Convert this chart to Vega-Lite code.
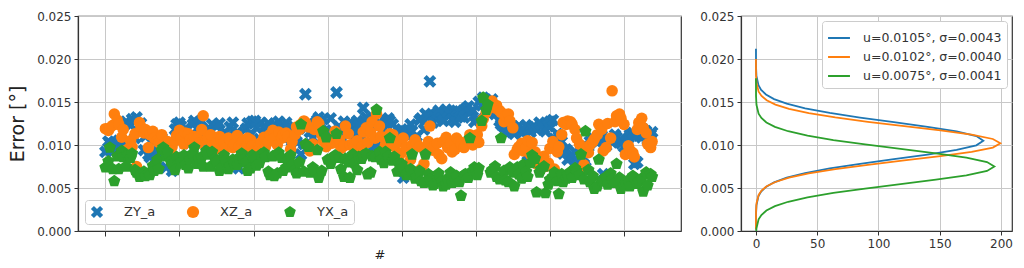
{
  "$schema": "https://vega.github.io/schema/vega-lite/v6.json",
  "padding": {"left": 8, "top": 9, "right": 5, "bottom": 2},
  "background": "white",
  "spacing": 17,
  "config": {
    "font": "DejaVu Sans",
    "view": {"stroke": "#333333", "strokeWidth": 1.2},
    "axis": {"grid": true, "gridColor": "#c8c8c8", "gridWidth": 1, "domainColor": "#333333", "domainWidth": 1.2, "tickColor": "#333333", "tickSize": 4, "labelFont": "DejaVu Sans", "labelFontSize": 12, "labelColor": "#333333", "titleFont": "DejaVu Sans", "titleFontWeight": "normal", "titleColor": "#222222", "labelPadding": 3},
    "legend": {"labelFont": "DejaVu Sans", "labelFontSize": 13, "labelColor": "#333333"}
  },
  "resolve": {"scale": {"color": "independent", "shape": "independent"}},
  "datasets": {
    "pts": [
      {"i":0,"ZY_a":0.0092,"XZ_a":0.0119,"YX_a":0.0074},
      {"i":2,"ZY_a":0.0104,"XZ_a":0.0117,"YX_a":0.0081},
      {"i":3,"ZY_a":0.0102,"XZ_a":0.0120,"YX_a":0.0097},
      {"i":5,"ZY_a":0.0093,"XZ_a":0.0123,"YX_a":0.0072},
      {"i":6,"ZY_a":0.0100,"XZ_a":0.0136,"YX_a":0.0058},
      {"i":8,"ZY_a":0.0099,"XZ_a":0.0129,"YX_a":0.0087},
      {"i":9,"ZY_a":0.0105,"XZ_a":0.0124,"YX_a":0.0072},
      {"i":11,"ZY_a":0.0101,"XZ_a":0.0109,"YX_a":0.0093},
      {"i":12,"ZY_a":0.0098,"XZ_a":0.0118,"YX_a":0.0086},
      {"i":14,"ZY_a":0.0127,"XZ_a":0.0092,"YX_a":0.0075},
      {"i":15,"ZY_a":0.0096,"XZ_a":0.0095,"YX_a":0.0088},
      {"i":17,"ZY_a":0.0123,"XZ_a":0.0105,"YX_a":0.0085},
      {"i":18,"ZY_a":0.0130,"XZ_a":0.0098,"YX_a":0.0090},
      {"i":20,"ZY_a":0.0108,"XZ_a":0.0113,"YX_a":0.0071},
      {"i":21,"ZY_a":0.0132,"XZ_a":0.0075,"YX_a":0.0068},
      {"i":23,"ZY_a":0.0117,"XZ_a":0.0126,"YX_a":0.0063},
      {"i":24,"ZY_a":0.0125,"XZ_a":0.0121,"YX_a":0.0066},
      {"i":26,"ZY_a":0.0094,"XZ_a":0.0114,"YX_a":0.0069},
      {"i":27,"ZY_a":0.0110,"XZ_a":0.0118,"YX_a":0.0064},
      {"i":29,"ZY_a":0.0089,"XZ_a":0.0097,"YX_a":0.0067},
      {"i":30,"ZY_a":0.0086,"XZ_a":0.0112,"YX_a":0.0065},
      {"i":32,"ZY_a":0.0104,"XZ_a":0.0116,"YX_a":0.0076},
      {"i":33,"ZY_a":0.0082,"XZ_a":0.0108,"YX_a":0.0070},
      {"i":35,"ZY_a":0.0091,"XZ_a":0.0105,"YX_a":0.0083},
      {"i":36,"ZY_a":0.0100,"XZ_a":0.0103,"YX_a":0.0072},
      {"i":38,"ZY_a":0.0108,"XZ_a":0.0112,"YX_a":0.0094},
      {"i":39,"ZY_a":0.0097,"XZ_a":0.0099,"YX_a":0.0097},
      {"i":41,"ZY_a":0.0074,"XZ_a":0.0101,"YX_a":0.0087},
      {"i":42,"ZY_a":0.0095,"XZ_a":0.0104,"YX_a":0.0092},
      {"i":44,"ZY_a":0.0099,"XZ_a":0.0093,"YX_a":0.0081},
      {"i":45,"ZY_a":0.0070,"XZ_a":0.0098,"YX_a":0.0078},
      {"i":47,"ZY_a":0.0118,"XZ_a":0.0105,"YX_a":0.0071},
      {"i":48,"ZY_a":0.0124,"XZ_a":0.0111,"YX_a":0.0086},
      {"i":50,"ZY_a":0.0126,"XZ_a":0.0117,"YX_a":0.0079},
      {"i":51,"ZY_a":0.0122,"XZ_a":0.0108,"YX_a":0.0080},
      {"i":53,"ZY_a":0.0111,"XZ_a":0.0101,"YX_a":0.0088},
      {"i":54,"ZY_a":0.0119,"XZ_a":0.0114,"YX_a":0.0077},
      {"i":56,"ZY_a":0.0105,"XZ_a":0.0113,"YX_a":0.0073},
      {"i":57,"ZY_a":0.0102,"XZ_a":0.0106,"YX_a":0.0083},
      {"i":59,"ZY_a":0.0124,"XZ_a":0.0104,"YX_a":0.0090},
      {"i":60,"ZY_a":0.0128,"XZ_a":0.0110,"YX_a":0.0097},
      {"i":62,"ZY_a":0.0119,"XZ_a":0.0108,"YX_a":0.0078},
      {"i":63,"ZY_a":0.0126,"XZ_a":0.0102,"YX_a":0.0084},
      {"i":65,"ZY_a":0.0128,"XZ_a":0.0118,"YX_a":0.0086},
      {"i":66,"ZY_a":0.0113,"XZ_a":0.0134,"YX_a":0.0075},
      {"i":68,"ZY_a":0.0101,"XZ_a":0.0106,"YX_a":0.0093},
      {"i":69,"ZY_a":0.0106,"XZ_a":0.0109,"YX_a":0.0089},
      {"i":71,"ZY_a":0.0117,"XZ_a":0.0112,"YX_a":0.0075},
      {"i":72,"ZY_a":0.0124,"XZ_a":0.0099,"YX_a":0.0092},
      {"i":74,"ZY_a":0.0108,"XZ_a":0.0095,"YX_a":0.0084},
      {"i":75,"ZY_a":0.0122,"XZ_a":0.0103,"YX_a":0.0081},
      {"i":77,"ZY_a":0.0125,"XZ_a":0.0110,"YX_a":0.0070},
      {"i":78,"ZY_a":0.0104,"XZ_a":0.0107,"YX_a":0.0073},
      {"i":80,"ZY_a":0.0098,"XZ_a":0.0102,"YX_a":0.0088},
      {"i":81,"ZY_a":0.0114,"XZ_a":0.0096,"YX_a":0.0082},
      {"i":83,"ZY_a":0.0110,"XZ_a":0.0108,"YX_a":0.0072},
      {"i":84,"ZY_a":0.0121,"XZ_a":0.0106,"YX_a":0.0076},
      {"i":86,"ZY_a":0.0126,"XZ_a":0.0097,"YX_a":0.0083},
      {"i":87,"ZY_a":0.0109,"XZ_a":0.0101,"YX_a":0.0079},
      {"i":89,"ZY_a":0.0115,"XZ_a":0.0111,"YX_a":0.0077},
      {"i":90,"ZY_a":0.0073,"XZ_a":0.0098,"YX_a":0.0085},
      {"i":92,"ZY_a":0.0092,"XZ_a":0.0103,"YX_a":0.0090},
      {"i":93,"ZY_a":0.0100,"XZ_a":0.0105,"YX_a":0.0083},
      {"i":95,"ZY_a":0.0119,"XZ_a":0.0097,"YX_a":0.0080},
      {"i":96,"ZY_a":0.0125,"XZ_a":0.0108,"YX_a":0.0070},
      {"i":98,"ZY_a":0.0112,"XZ_a":0.0106,"YX_a":0.0073},
      {"i":99,"ZY_a":0.0127,"XZ_a":0.0099,"YX_a":0.0088},
      {"i":101,"ZY_a":0.0128,"XZ_a":0.0094,"YX_a":0.0084},
      {"i":102,"ZY_a":0.0120,"XZ_a":0.0092,"YX_a":0.0076},
      {"i":104,"ZY_a":0.0107,"XZ_a":0.0101,"YX_a":0.0079},
      {"i":105,"ZY_a":0.0126,"XZ_a":0.0103,"YX_a":0.0089},
      {"i":107,"ZY_a":0.0121,"XZ_a":0.0109,"YX_a":0.0091},
      {"i":108,"ZY_a":0.0118,"XZ_a":0.0098,"YX_a":0.0086},
      {"i":110,"ZY_a":0.0125,"XZ_a":0.0104,"YX_a":0.0069},
      {"i":111,"ZY_a":0.0112,"XZ_a":0.0112,"YX_a":0.0065},
      {"i":113,"ZY_a":0.0116,"XZ_a":0.0117,"YX_a":0.0087},
      {"i":114,"ZY_a":0.0124,"XZ_a":0.0108,"YX_a":0.0064},
      {"i":116,"ZY_a":0.0113,"XZ_a":0.0100,"YX_a":0.0067},
      {"i":117,"ZY_a":0.0127,"XZ_a":0.0115,"YX_a":0.0091},
      {"i":119,"ZY_a":0.0122,"XZ_a":0.0108,"YX_a":0.0085},
      {"i":120,"ZY_a":0.0109,"XZ_a":0.0112,"YX_a":0.0070},
      {"i":122,"ZY_a":0.0126,"XZ_a":0.0114,"YX_a":0.0074},
      {"i":123,"ZY_a":0.0121,"XZ_a":0.0110,"YX_a":0.0082},
      {"i":125,"ZY_a":0.0113,"XZ_a":0.0095,"YX_a":0.0088},
      {"i":126,"ZY_a":0.0097,"XZ_a":0.0104,"YX_a":0.0077},
      {"i":128,"ZY_a":0.0109,"XZ_a":0.0112,"YX_a":0.0071},
      {"i":129,"ZY_a":0.0104,"XZ_a":0.0121,"YX_a":0.0067},
      {"i":131,"ZY_a":0.0119,"XZ_a":0.0118,"YX_a":0.0080},
      {"i":132,"ZY_a":0.0089,"XZ_a":0.0124,"YX_a":0.0124},
      {"i":134,"ZY_a":0.0101,"XZ_a":0.0128,"YX_a":0.0069},
      {"i":135,"ZY_a":0.0159,"XZ_a":0.0126,"YX_a":0.0101},
      {"i":137,"ZY_a":0.0125,"XZ_a":0.0121,"YX_a":0.0098},
      {"i":138,"ZY_a":0.0115,"XZ_a":0.0093,"YX_a":0.0068},
      {"i":140,"ZY_a":0.0108,"XZ_a":0.0101,"YX_a":0.0074},
      {"i":141,"ZY_a":0.0122,"XZ_a":0.0118,"YX_a":0.0071},
      {"i":143,"ZY_a":0.0129,"XZ_a":0.0127,"YX_a":0.0094},
      {"i":144,"ZY_a":0.0132,"XZ_a":0.0125,"YX_a":0.0062},
      {"i":146,"ZY_a":0.0124,"XZ_a":0.0112,"YX_a":0.0070},
      {"i":147,"ZY_a":0.0130,"XZ_a":0.0105,"YX_a":0.0116},
      {"i":149,"ZY_a":0.0115,"XZ_a":0.0098,"YX_a":0.0109},
      {"i":150,"ZY_a":0.0110,"XZ_a":0.0107,"YX_a":0.0083},
      {"i":152,"ZY_a":0.0131,"XZ_a":0.0104,"YX_a":0.0078},
      {"i":153,"ZY_a":0.0117,"XZ_a":0.0102,"YX_a":0.0085},
      {"i":155,"ZY_a":0.0113,"XZ_a":0.0116,"YX_a":0.0088},
      {"i":156,"ZY_a":0.0161,"XZ_a":0.0110,"YX_a":0.0113},
      {"i":158,"ZY_a":0.0121,"XZ_a":0.0106,"YX_a":0.0085},
      {"i":159,"ZY_a":0.0108,"XZ_a":0.0096,"YX_a":0.0072},
      {"i":161,"ZY_a":0.0127,"XZ_a":0.0099,"YX_a":0.0063},
      {"i":162,"ZY_a":0.0119,"XZ_a":0.0122,"YX_a":0.0084},
      {"i":164,"ZY_a":0.0112,"XZ_a":0.0113,"YX_a":0.0080},
      {"i":165,"ZY_a":0.0126,"XZ_a":0.0100,"YX_a":0.0062},
      {"i":167,"ZY_a":0.0118,"XZ_a":0.0101,"YX_a":0.0089},
      {"i":168,"ZY_a":0.0114,"XZ_a":0.0097,"YX_a":0.0079},
      {"i":170,"ZY_a":0.0128,"XZ_a":0.0105,"YX_a":0.0071},
      {"i":171,"ZY_a":0.0123,"XZ_a":0.0090,"YX_a":0.0086},
      {"i":173,"ZY_a":0.0110,"XZ_a":0.0098,"YX_a":0.0084},
      {"i":174,"ZY_a":0.0143,"XZ_a":0.0115,"YX_a":0.0088},
      {"i":176,"ZY_a":0.0132,"XZ_a":0.0120,"YX_a":0.0090},
      {"i":177,"ZY_a":0.0128,"XZ_a":0.0103,"YX_a":0.0066},
      {"i":179,"ZY_a":0.0121,"XZ_a":0.0115,"YX_a":0.0068},
      {"i":180,"ZY_a":0.0095,"XZ_a":0.0127,"YX_a":0.0087},
      {"i":182,"ZY_a":0.0103,"XZ_a":0.0108,"YX_a":0.0086},
      {"i":183,"ZY_a":0.0098,"XZ_a":0.0136,"YX_a":0.0141},
      {"i":185,"ZY_a":0.0126,"XZ_a":0.0122,"YX_a":0.0092},
      {"i":186,"ZY_a":0.0124,"XZ_a":0.0110,"YX_a":0.0083},
      {"i":188,"ZY_a":0.0119,"XZ_a":0.0095,"YX_a":0.0079},
      {"i":189,"ZY_a":0.0128,"XZ_a":0.0100,"YX_a":0.0092},
      {"i":191,"ZY_a":0.0131,"XZ_a":0.0107,"YX_a":0.0087},
      {"i":192,"ZY_a":0.0128,"XZ_a":0.0113,"YX_a":0.0108},
      {"i":194,"ZY_a":0.0124,"XZ_a":0.0112,"YX_a":0.0082},
      {"i":195,"ZY_a":0.0112,"XZ_a":0.0098,"YX_a":0.0086},
      {"i":197,"ZY_a":0.0108,"XZ_a":0.0103,"YX_a":0.0069},
      {"i":198,"ZY_a":0.0116,"XZ_a":0.0085,"YX_a":0.0079},
      {"i":200,"ZY_a":0.0118,"XZ_a":0.0091,"YX_a":0.0078},
      {"i":201,"ZY_a":0.0062,"XZ_a":0.0108,"YX_a":0.0074},
      {"i":203,"ZY_a":0.0112,"XZ_a":0.0097,"YX_a":0.0065},
      {"i":204,"ZY_a":0.0114,"XZ_a":0.0070,"YX_a":0.0068},
      {"i":206,"ZY_a":0.0124,"XZ_a":0.0083,"YX_a":0.0072},
      {"i":207,"ZY_a":0.0116,"XZ_a":0.0100,"YX_a":0.0089},
      {"i":209,"ZY_a":0.0106,"XZ_a":0.0106,"YX_a":0.0061},
      {"i":210,"ZY_a":0.0110,"XZ_a":0.0102,"YX_a":0.0063},
      {"i":212,"ZY_a":0.0129,"XZ_a":0.0098,"YX_a":0.0070},
      {"i":213,"ZY_a":0.0131,"XZ_a":0.0072,"YX_a":0.0058},
      {"i":215,"ZY_a":0.0118,"XZ_a":0.0078,"YX_a":0.0056},
      {"i":216,"ZY_a":0.0136,"XZ_a":0.0093,"YX_a":0.0089},
      {"i":218,"ZY_a":0.0133,"XZ_a":0.0104,"YX_a":0.0066},
      {"i":219,"ZY_a":0.0174,"XZ_a":0.0122,"YX_a":0.0060},
      {"i":221,"ZY_a":0.0126,"XZ_a":0.0094,"YX_a":0.0053},
      {"i":222,"ZY_a":0.0134,"XZ_a":0.0099,"YX_a":0.0055},
      {"i":224,"ZY_a":0.0137,"XZ_a":0.0102,"YX_a":0.0062},
      {"i":225,"ZY_a":0.0140,"XZ_a":0.0089,"YX_a":0.0067},
      {"i":227,"ZY_a":0.0131,"XZ_a":0.0084,"YX_a":0.0058},
      {"i":228,"ZY_a":0.0128,"XZ_a":0.0104,"YX_a":0.0052},
      {"i":230,"ZY_a":0.0141,"XZ_a":0.0109,"YX_a":0.0054},
      {"i":231,"ZY_a":0.0138,"XZ_a":0.0097,"YX_a":0.0061},
      {"i":233,"ZY_a":0.0136,"XZ_a":0.0101,"YX_a":0.0068},
      {"i":234,"ZY_a":0.0130,"XZ_a":0.0092,"YX_a":0.0056},
      {"i":236,"ZY_a":0.0127,"XZ_a":0.0095,"YX_a":0.0060},
      {"i":237,"ZY_a":0.0140,"XZ_a":0.0108,"YX_a":0.0064},
      {"i":239,"ZY_a":0.0139,"XZ_a":0.0104,"YX_a":0.0057},
      {"i":240,"ZY_a":0.0133,"XZ_a":0.0101,"YX_a":0.0041},
      {"i":242,"ZY_a":0.0132,"XZ_a":0.0097,"YX_a":0.0065},
      {"i":243,"ZY_a":0.0142,"XZ_a":0.0100,"YX_a":0.0066},
      {"i":245,"ZY_a":0.0145,"XZ_a":0.0106,"YX_a":0.0062},
      {"i":246,"ZY_a":0.0138,"XZ_a":0.0112,"YX_a":0.0108},
      {"i":248,"ZY_a":0.0140,"XZ_a":0.0100,"YX_a":0.0070},
      {"i":249,"ZY_a":0.0127,"XZ_a":0.0106,"YX_a":0.0074},
      {"i":251,"ZY_a":0.0130,"XZ_a":0.0112,"YX_a":0.0065},
      {"i":252,"ZY_a":0.0150,"XZ_a":0.0103,"YX_a":0.0073},
      {"i":254,"ZY_a":0.0146,"XZ_a":0.0122,"YX_a":0.0128},
      {"i":255,"ZY_a":0.0155,"XZ_a":0.0130,"YX_a":0.0155},
      {"i":257,"ZY_a":0.0152,"XZ_a":0.0138,"YX_a":0.0141},
      {"i":258,"ZY_a":0.0149,"XZ_a":0.0142,"YX_a":0.0147},
      {"i":260,"ZY_a":0.0143,"XZ_a":0.0148,"YX_a":0.0068},
      {"i":261,"ZY_a":0.0153,"XZ_a":0.0151,"YX_a":0.0071},
      {"i":263,"ZY_a":0.0136,"XZ_a":0.0143,"YX_a":0.0075},
      {"i":264,"ZY_a":0.0140,"XZ_a":0.0146,"YX_a":0.0063},
      {"i":266,"ZY_a":0.0128,"XZ_a":0.0140,"YX_a":0.0060},
      {"i":267,"ZY_a":0.0124,"XZ_a":0.0138,"YX_a":0.0108},
      {"i":269,"ZY_a":0.0121,"XZ_a":0.0127,"YX_a":0.0070},
      {"i":270,"ZY_a":0.0115,"XZ_a":0.0134,"YX_a":0.0059},
      {"i":272,"ZY_a":0.0116,"XZ_a":0.0136,"YX_a":0.0057},
      {"i":273,"ZY_a":0.0119,"XZ_a":0.0128,"YX_a":0.0074},
      {"i":275,"ZY_a":0.0122,"XZ_a":0.0120,"YX_a":0.0068},
      {"i":276,"ZY_a":0.0113,"XZ_a":0.0089,"YX_a":0.0052},
      {"i":278,"ZY_a":0.0118,"XZ_a":0.0095,"YX_a":0.0074},
      {"i":279,"ZY_a":0.0122,"XZ_a":0.0098,"YX_a":0.0066},
      {"i":281,"ZY_a":0.0114,"XZ_a":0.0102,"YX_a":0.0061},
      {"i":282,"ZY_a":0.0117,"XZ_a":0.0093,"YX_a":0.0077},
      {"i":284,"ZY_a":0.0123,"XZ_a":0.0097,"YX_a":0.0069},
      {"i":285,"ZY_a":0.0081,"XZ_a":0.0105,"YX_a":0.0063},
      {"i":287,"ZY_a":0.0115,"XZ_a":0.0089,"YX_a":0.0079},
      {"i":288,"ZY_a":0.0120,"XZ_a":0.0103,"YX_a":0.0088},
      {"i":290,"ZY_a":0.0121,"XZ_a":0.0092,"YX_a":0.0084},
      {"i":291,"ZY_a":0.0118,"XZ_a":0.0078,"YX_a":0.0045},
      {"i":293,"ZY_a":0.0126,"XZ_a":0.0080,"YX_a":0.0068},
      {"i":294,"ZY_a":0.0124,"XZ_a":0.0083,"YX_a":0.0072},
      {"i":296,"ZY_a":0.0119,"XZ_a":0.0087,"YX_a":0.0075},
      {"i":297,"ZY_a":0.0116,"XZ_a":0.0075,"YX_a":0.0044},
      {"i":299,"ZY_a":0.0122,"XZ_a":0.0079,"YX_a":0.0054},
      {"i":300,"ZY_a":0.0127,"XZ_a":0.0096,"YX_a":0.0060},
      {"i":302,"ZY_a":0.0129,"XZ_a":0.0104,"YX_a":0.0063},
      {"i":303,"ZY_a":0.0107,"XZ_a":0.0072,"YX_a":0.0068},
      {"i":305,"ZY_a":0.0113,"XZ_a":0.0092,"YX_a":0.0058},
      {"i":306,"ZY_a":0.0110,"XZ_a":0.0098,"YX_a":0.0043},
      {"i":308,"ZY_a":0.0104,"XZ_a":0.0112,"YX_a":0.0066},
      {"i":309,"ZY_a":0.0090,"XZ_a":0.0126,"YX_a":0.0057},
      {"i":311,"ZY_a":0.0095,"XZ_a":0.0124,"YX_a":0.0061},
      {"i":312,"ZY_a":0.0083,"XZ_a":0.0128,"YX_a":0.0065},
      {"i":314,"ZY_a":0.0086,"XZ_a":0.0127,"YX_a":0.0069},
      {"i":315,"ZY_a":0.0088,"XZ_a":0.0124,"YX_a":0.0062},
      {"i":317,"ZY_a":0.0092,"XZ_a":0.0118,"YX_a":0.0073},
      {"i":318,"ZY_a":0.0076,"XZ_a":0.0108,"YX_a":0.0070},
      {"i":320,"ZY_a":0.0080,"XZ_a":0.0101,"YX_a":0.0065},
      {"i":321,"ZY_a":0.0093,"XZ_a":0.0068,"YX_a":0.0089},
      {"i":323,"ZY_a":0.0085,"XZ_a":0.0077,"YX_a":0.0060},
      {"i":324,"ZY_a":0.0074,"XZ_a":0.0095,"YX_a":0.0116},
      {"i":326,"ZY_a":0.0098,"XZ_a":0.0091,"YX_a":0.0071},
      {"i":327,"ZY_a":0.0104,"XZ_a":0.0100,"YX_a":0.0057},
      {"i":329,"ZY_a":0.0108,"XZ_a":0.0104,"YX_a":0.0064},
      {"i":330,"ZY_a":0.0106,"XZ_a":0.0107,"YX_a":0.0049},
      {"i":332,"ZY_a":0.0103,"XZ_a":0.0112,"YX_a":0.0052},
      {"i":333,"ZY_a":0.0105,"XZ_a":0.0124,"YX_a":0.0083},
      {"i":335,"ZY_a":0.0111,"XZ_a":0.0118,"YX_a":0.0059},
      {"i":336,"ZY_a":0.0066,"XZ_a":0.0093,"YX_a":0.0058},
      {"i":338,"ZY_a":0.0099,"XZ_a":0.0097,"YX_a":0.0063},
      {"i":339,"ZY_a":0.0108,"XZ_a":0.0125,"YX_a":0.0054},
      {"i":341,"ZY_a":0.0106,"XZ_a":0.0108,"YX_a":0.0067},
      {"i":342,"ZY_a":0.0103,"XZ_a":0.0163,"YX_a":0.0060},
      {"i":344,"ZY_a":0.0112,"XZ_a":0.0127,"YX_a":0.0056},
      {"i":345,"ZY_a":0.0109,"XZ_a":0.0134,"YX_a":0.0078},
      {"i":347,"ZY_a":0.0104,"XZ_a":0.0136,"YX_a":0.0062},
      {"i":348,"ZY_a":0.0102,"XZ_a":0.0131,"YX_a":0.0049},
      {"i":350,"ZY_a":0.0098,"XZ_a":0.0124,"YX_a":0.0053},
      {"i":351,"ZY_a":0.0105,"XZ_a":0.0089,"YX_a":0.0056},
      {"i":353,"ZY_a":0.0108,"XZ_a":0.0099,"YX_a":0.0059},
      {"i":354,"ZY_a":0.0112,"XZ_a":0.0094,"YX_a":0.0052},
      {"i":356,"ZY_a":0.0114,"XZ_a":0.0091,"YX_a":0.0064},
      {"i":357,"ZY_a":0.0078,"XZ_a":0.0086,"YX_a":0.0062},
      {"i":359,"ZY_a":0.0080,"XZ_a":0.0118,"YX_a":0.0055},
      {"i":360,"ZY_a":0.0111,"XZ_a":0.0126,"YX_a":0.0058},
      {"i":362,"ZY_a":0.0109,"XZ_a":0.0131,"YX_a":0.0061},
      {"i":363,"ZY_a":0.0118,"XZ_a":0.0120,"YX_a":0.0046},
      {"i":365,"ZY_a":0.0116,"XZ_a":0.0114,"YX_a":0.0068},
      {"i":366,"ZY_a":0.0106,"XZ_a":0.0101,"YX_a":0.0053},
      {"i":368,"ZY_a":0.0112,"XZ_a":0.0097,"YX_a":0.0066},
      {"i":369,"ZY_a":0.0115,"XZ_a":0.0104,"YX_a":0.0063}
    ],
    "pdf": [
      {"c":"u=0.0105°, σ=0.0043","y":0.00018,"d":0.0002},
      {"c":"u=0.0105°, σ=0.0043","y":0.0019,"d":0.062},
      {"c":"u=0.0105°, σ=0.0043","y":0.00298,"d":0.41},
      {"c":"u=0.0105°, σ=0.0043","y":0.00405,"d":2.06},
      {"c":"u=0.0105°, σ=0.0043","y":0.00459,"d":4.23},
      {"c":"u=0.0105°, σ=0.0043","y":0.00513,"d":8.15},
      {"c":"u=0.0105°, σ=0.0043","y":0.00566,"d":14.77},
      {"c":"u=0.0105°, σ=0.0043","y":0.0062,"d":25.11},
      {"c":"u=0.0105°, σ=0.0043","y":0.00674,"d":40.15},
      {"c":"u=0.0105°, σ=0.0043","y":0.00728,"d":60.26},
      {"c":"u=0.0105°, σ=0.0043","y":0.00781,"d":84.97},
      {"c":"u=0.0105°, σ=0.0043","y":0.00835,"d":112.57},
      {"c":"u=0.0105°, σ=0.0043","y":0.00889,"d":140.09},
      {"c":"u=0.0105°, σ=0.0043","y":0.00943,"d":163.79},
      {"c":"u=0.0105°, σ=0.0043","y":0.00996,"d":179.88},
      {"c":"u=0.0105°, σ=0.0043","y":0.0105,"d":185.6},
      {"c":"u=0.0105°, σ=0.0043","y":0.01104,"d":179.88},
      {"c":"u=0.0105°, σ=0.0043","y":0.01158,"d":163.79},
      {"c":"u=0.0105°, σ=0.0043","y":0.01211,"d":140.09},
      {"c":"u=0.0105°, σ=0.0043","y":0.01265,"d":112.57},
      {"c":"u=0.0105°, σ=0.0043","y":0.01319,"d":84.97},
      {"c":"u=0.0105°, σ=0.0043","y":0.01373,"d":60.26},
      {"c":"u=0.0105°, σ=0.0043","y":0.01426,"d":40.15},
      {"c":"u=0.0105°, σ=0.0043","y":0.0148,"d":25.11},
      {"c":"u=0.0105°, σ=0.0043","y":0.01534,"d":14.77},
      {"c":"u=0.0105°, σ=0.0043","y":0.01588,"d":8.15},
      {"c":"u=0.0105°, σ=0.0043","y":0.01641,"d":4.23},
      {"c":"u=0.0105°, σ=0.0043","y":0.01695,"d":2.06},
      {"c":"u=0.0105°, σ=0.0043","y":0.01803,"d":0.41},
      {"c":"u=0.0105°, σ=0.0043","y":0.0191,"d":0.062},
      {"c":"u=0.0105°, σ=0.0043","y":0.0212,"d":0.0008},
      {"c":"u=0.0102°, σ=0.0040","y":0.0002,"d":0.0007},
      {"c":"u=0.0102°, σ=0.0040","y":0.0012,"d":0.008},
      {"c":"u=0.0102°, σ=0.0040","y":0.0022,"d":0.067},
      {"c":"u=0.0102°, σ=0.0040","y":0.0032,"d":0.44},
      {"c":"u=0.0102°, σ=0.0040","y":0.0042,"d":2.21},
      {"c":"u=0.0102°, σ=0.0040","y":0.0047,"d":4.55},
      {"c":"u=0.0102°, σ=0.0040","y":0.0052,"d":8.76},
      {"c":"u=0.0102°, σ=0.0040","y":0.0057,"d":15.88},
      {"c":"u=0.0102°, σ=0.0040","y":0.0062,"d":26.99},
      {"c":"u=0.0102°, σ=0.0040","y":0.0067,"d":43.15},
      {"c":"u=0.0102°, σ=0.0040","y":0.0072,"d":64.78},
      {"c":"u=0.0102°, σ=0.0040","y":0.0077,"d":91.33},
      {"c":"u=0.0102°, σ=0.0040","y":0.0082,"d":121.0},
      {"c":"u=0.0102°, σ=0.0040","y":0.0087,"d":150.58},
      {"c":"u=0.0102°, σ=0.0040","y":0.0092,"d":176.06},
      {"c":"u=0.0102°, σ=0.0040","y":0.0097,"d":193.36},
      {"c":"u=0.0102°, σ=0.0040","y":0.0102,"d":199.5},
      {"c":"u=0.0102°, σ=0.0040","y":0.0107,"d":193.36},
      {"c":"u=0.0102°, σ=0.0040","y":0.0112,"d":176.06},
      {"c":"u=0.0102°, σ=0.0040","y":0.0117,"d":150.58},
      {"c":"u=0.0102°, σ=0.0040","y":0.0122,"d":121.0},
      {"c":"u=0.0102°, σ=0.0040","y":0.0127,"d":91.33},
      {"c":"u=0.0102°, σ=0.0040","y":0.0132,"d":64.78},
      {"c":"u=0.0102°, σ=0.0040","y":0.0137,"d":43.15},
      {"c":"u=0.0102°, σ=0.0040","y":0.0142,"d":26.99},
      {"c":"u=0.0102°, σ=0.0040","y":0.0147,"d":15.88},
      {"c":"u=0.0102°, σ=0.0040","y":0.0152,"d":8.76},
      {"c":"u=0.0102°, σ=0.0040","y":0.0157,"d":4.55},
      {"c":"u=0.0102°, σ=0.0040","y":0.0162,"d":2.21},
      {"c":"u=0.0102°, σ=0.0040","y":0.0172,"d":0.44},
      {"c":"u=0.0102°, σ=0.0040","y":0.0182,"d":0.067},
      {"c":"u=0.0102°, σ=0.0040","y":0.0200,"d":0.001},
      {"c":"u=0.0075°, σ=0.0041","y":0.0,"d":0.24},
      {"c":"u=0.0075°, σ=0.0041","y":0.000325,"d":0.43},
      {"c":"u=0.0075°, σ=0.0041","y":0.00135,"d":2.16},
      {"c":"u=0.0075°, σ=0.0041","y":0.001863,"d":4.44},
      {"c":"u=0.0075°, σ=0.0041","y":0.002375,"d":8.54},
      {"c":"u=0.0075°, σ=0.0041","y":0.002888,"d":15.49},
      {"c":"u=0.0075°, σ=0.0041","y":0.0034,"d":26.33},
      {"c":"u=0.0075°, σ=0.0041","y":0.003913,"d":42.09},
      {"c":"u=0.0075°, σ=0.0041","y":0.004425,"d":63.19},
      {"c":"u=0.0075°, σ=0.0041","y":0.004938,"d":89.09},
      {"c":"u=0.0075°, σ=0.0041","y":0.00545,"d":118.03},
      {"c":"u=0.0075°, σ=0.0041","y":0.005963,"d":146.88},
      {"c":"u=0.0075°, σ=0.0041","y":0.006475,"d":171.74},
      {"c":"u=0.0075°, σ=0.0041","y":0.006988,"d":188.61},
      {"c":"u=0.0075°, σ=0.0041","y":0.0075,"d":194.6},
      {"c":"u=0.0075°, σ=0.0041","y":0.008013,"d":188.61},
      {"c":"u=0.0075°, σ=0.0041","y":0.008525,"d":171.74},
      {"c":"u=0.0075°, σ=0.0041","y":0.009038,"d":146.88},
      {"c":"u=0.0075°, σ=0.0041","y":0.00955,"d":118.03},
      {"c":"u=0.0075°, σ=0.0041","y":0.010063,"d":89.09},
      {"c":"u=0.0075°, σ=0.0041","y":0.010575,"d":63.19},
      {"c":"u=0.0075°, σ=0.0041","y":0.011088,"d":42.09},
      {"c":"u=0.0075°, σ=0.0041","y":0.0116,"d":26.33},
      {"c":"u=0.0075°, σ=0.0041","y":0.012113,"d":15.49},
      {"c":"u=0.0075°, σ=0.0041","y":0.012625,"d":8.54},
      {"c":"u=0.0075°, σ=0.0041","y":0.013138,"d":4.44},
      {"c":"u=0.0075°, σ=0.0041","y":0.01365,"d":2.16},
      {"c":"u=0.0075°, σ=0.0041","y":0.014675,"d":0.43},
      {"c":"u=0.0075°, σ=0.0041","y":0.0157,"d":0.065},
      {"c":"u=0.0075°, σ=0.0041","y":0.01775,"d":0.0007}
    ]
  },
  "hconcat": [
    {
      "width": 603,
      "height": 215,
      "data": {"name": "pts"},
      "layer": [
        {
          "mark": {"type": "point", "filled": true, "opacity": 1, "size": 165},
          "encoding": {
            "x": {"field": "i", "type": "quantitative", "scale": {"domain": [-18.5, 388.5], "nice": false, "zero": false}, "axis": {"values": [0, 50, 100, 150, 200, 250, 300, 350], "labels": false, "title": "#", "titleFontSize": 13, "titlePadding": 12, "tickSize": 5}},
            "y": {"field": "ZY_a", "type": "quantitative", "scale": {"domain": [0, 0.025], "nice": false}, "axis": {"values": [0, 0.005, 0.01, 0.015, 0.02, 0.025], "format": ".3f", "title": "Error [°]", "titleFontSize": 19, "titlePadding": 9}},
            "color": {"datum": "ZY_a", "type": "nominal", "scale": {"domain": ["ZY_a", "XZ_a", "YX_a"], "range": ["#1f77b4", "#ff7f0e", "#2ca02c"]}, "legend": {"title": null, "orient": "bottom-left", "direction": "horizontal", "offset": 7, "padding": 5, "fillColor": "white", "strokeColor": "#cccccc", "cornerRadius": 3, "symbolSize": 150, "labelOffset": 20, "columnPadding": 30, "labelFontSize": 13}},
            "shape": {"datum": "ZY_a", "type": "nominal", "scale": {"domain": ["ZY_a", "XZ_a", "YX_a"], "range": ["M-1,-0.5L-0.5,-1L0,-0.5L0.5,-1L1,-0.5L0.5,0L1,0.5L0.5,1L0,0.5L-0.5,1L-1,0.5L-0.5,0Z", "circle", "M0,-1L0.951,-0.309L0.588,0.809L-0.588,0.809L-0.951,-0.309Z"]}}
          }
        },
        {
          "mark": {"type": "point", "filled": true, "opacity": 1, "size": 133},
          "encoding": {
            "x": {"field": "i", "type": "quantitative", "scale": {"domain": [-18.5, 388.5], "nice": false, "zero": false}, "axis": {"values": [0, 50, 100, 150, 200, 250, 300, 350], "labels": false, "title": "#", "titleFontSize": 13, "titlePadding": 12, "tickSize": 5}},
            "y": {"field": "XZ_a", "type": "quantitative", "scale": {"domain": [0, 0.025], "nice": false}, "axis": {"values": [0, 0.005, 0.01, 0.015, 0.02, 0.025], "format": ".3f", "title": "Error [°]", "titleFontSize": 19, "titlePadding": 9}},
            "color": {"datum": "XZ_a", "type": "nominal"},
            "shape": {"datum": "XZ_a", "type": "nominal"}
          }
        },
        {
          "mark": {"type": "point", "filled": true, "opacity": 1, "size": 165},
          "encoding": {
            "x": {"field": "i", "type": "quantitative", "scale": {"domain": [-18.5, 388.5], "nice": false, "zero": false}, "axis": {"values": [0, 50, 100, 150, 200, 250, 300, 350], "labels": false, "title": "#", "titleFontSize": 13, "titlePadding": 12, "tickSize": 5}},
            "y": {"field": "YX_a", "type": "quantitative", "scale": {"domain": [0, 0.025], "nice": false}, "axis": {"values": [0, 0.005, 0.01, 0.015, 0.02, 0.025], "format": ".3f", "title": "Error [°]", "titleFontSize": 19, "titlePadding": 9}},
            "color": {"datum": "YX_a", "type": "nominal"},
            "shape": {"datum": "YX_a", "type": "nominal"}
          }
        }
      ]
    },
    {
      "width": 271,
      "height": 215,
      "data": {"name": "pdf"},
      "mark": {"type": "line", "strokeWidth": 1.8},
      "encoding": {
        "x": {"field": "d", "type": "quantitative", "scale": {"domain": [-12.2, 209], "nice": false, "zero": false}, "axis": {"values": [0, 50, 100, 150, 200], "title": null}},
        "y": {"field": "y", "type": "quantitative", "scale": {"domain": [0, 0.025], "nice": false}, "axis": {"values": [0, 0.005, 0.01, 0.015, 0.02, 0.025], "format": ".3f", "title": null}},
        "color": {"field": "c", "type": "nominal", "scale": {"domain": ["u=0.0105°, σ=0.0043", "u=0.0102°, σ=0.0040", "u=0.0075°, σ=0.0041"], "range": ["#1f77b4", "#ff7f0e", "#2ca02c"]}, "legend": {"title": null, "orient": "top-right", "offset": 5, "padding": 5, "fillColor": "white", "strokeColor": "#cccccc", "cornerRadius": 3, "symbolType": "stroke", "symbolSize": 480, "symbolStrokeWidth": 2, "labelFontSize": 12.5, "rowPadding": 0, "labelOffset": 12}},
        "order": {"field": "y", "type": "quantitative"}
      }
    }
  ]
}
